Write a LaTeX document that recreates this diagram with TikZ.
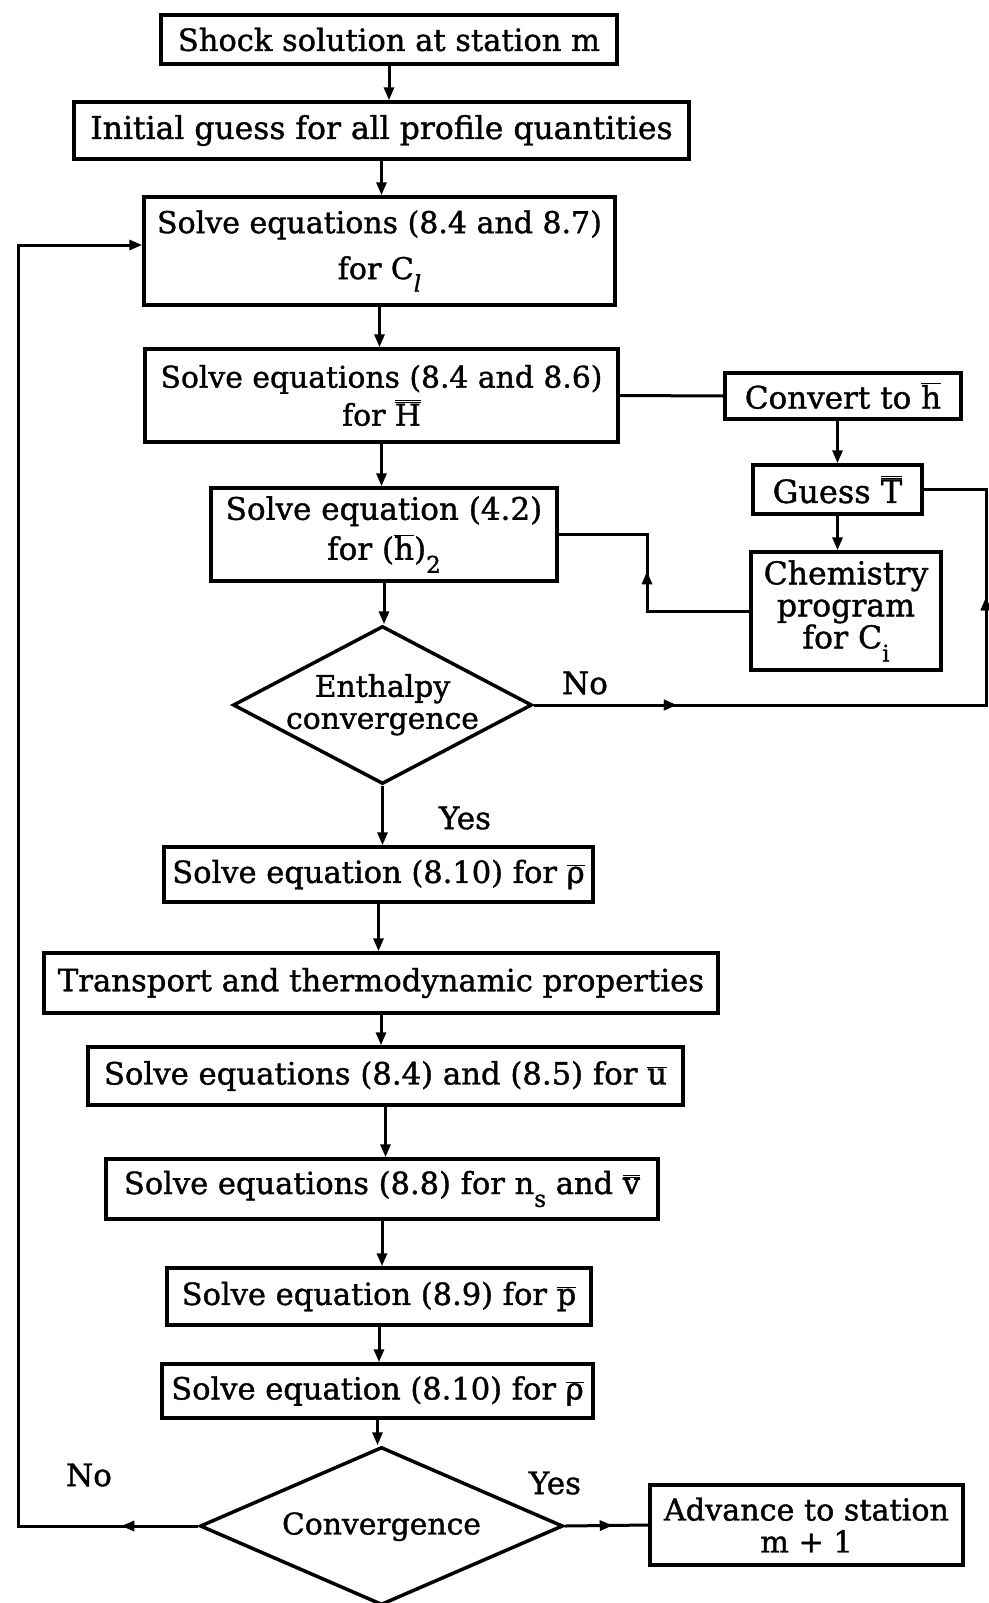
\documentclass[tikz,border=0pt]{standalone}
\usepackage{fontspec}
\setmainfont{DejaVu Serif}[FakeBold=1.2]
\usetikzlibrary{arrows.meta,shapes.geometric,decorations.markings}

% bars and lowered subscripts set in the running text font
\newcommand\ob[1]{\ensuremath{\overline{\mbox{#1}}}}
\newcommand\obb[1]{\ensuremath{\overline{\overline{\mbox{#1}}}}}
\newcommand\lsub[1]{\raisebox{-0.42em}{\fontsize{23}{23}\selectfont #1}}
\newcommand\fs[2]{\fontsize{#1}{#2}\selectfont}
% text that takes no room, so a decision keeps its given size
\newcommand\zt[1]{\makebox[0pt]{\smash{\raisebox{-0.25em}{\begin{tabular}[c]{@{}c@{}}#1\end{tabular}}}}}

\begin{document}
\begin{tikzpicture}[x=1pt,y=-1pt,
  box/.style={draw, line width=3.5pt, inner sep=0pt, align=center},
  txt/.style={font=\fs{30.5}{36}},
  dec/.style={draw, diamond, line width=3.5pt, inner sep=0pt},
  line/.style={line width=3pt},
  arr/.style={line width=3pt, -{Triangle[length=13pt,width=10pt]}},
  midarrow/.style={postaction={decorate}, decoration={markings,
      mark=at position #1 with {\arrow{Triangle[length=13pt,width=10pt]}}}},
  lbl/.style={font=\fs{31}{36}, inner sep=0pt}]

\fill[white] (0,0) rectangle (988,1603);
\useasboundingbox (0,0) rectangle (988,1603);

% main column
\node[box, txt, minimum width=456pt, minimum height=49pt] (b1) at (389,39.5)
  {Shock solution at station m};
\node[box, txt, font=\fs{31.4}{36}, minimum width=615pt, minimum height=57pt] (b2) at (381.5,130.5)
  {Initial guess for all profile quantities};
\node[box, minimum width=471pt, minimum height=108pt,
      font=\fs{30}{46}] (b3) at (379.5,251)
  {Solve equations (8.4 and 8.7)\\ for C\lsub{\itshape l}};
\node[box, minimum width=473pt, minimum height=93pt,
      font=\fs{29.8}{38}] (b4) at (381.5,395.5)
  {Solve equations (8.4 and 8.6)\\ for \obb{H}};
\node[box, minimum width=346pt, minimum height=93pt,
      font=\fs{31}{40}] (b5) at (384,534.5)
  {Solve equation (4.2)\\ for (\ob{h})\lsub{2}};
\node[dec, minimum width=299pt, minimum height=158pt,
      font=\fs{29.8}{32}] (enth) at (382.5,705)
  {\zt{Enthalpy\\ convergence}};
\node[box, txt, minimum width=429pt, minimum height=55pt] (b6) at (378.5,874.5)
  {Solve equation (8.10) for \ob{ρ}};
\node[box, txt, font=\fs{30.7}{36}, minimum width=674pt, minimum height=60pt] (b7) at (381,983)
  {Transport and thermodynamic properties};
\node[box, txt, font=\fs{30.7}{36}, minimum width=595pt, minimum height=58pt] (b8) at (385.5,1076)
  {Solve equations (8.4) and (8.5) for \ob{u}};
\node[box, txt, minimum width=552pt, minimum height=60pt] (b9) at (382,1189)
  {Solve equations (8.8) for n\lsub{s} and \obb{v}};
\node[box, txt, minimum width=424pt, minimum height=57pt] (b10) at (379,1296.5)
  {Solve equation (8.9) for \ob{p}};
\node[box, txt, minimum width=431pt, minimum height=54pt] (b11) at (377.5,1391)
  {Solve equation (8.10) for \ob{ρ}};
\node[dec, font=\fs{29.8}{36}, minimum width=363pt, minimum height=158pt] (cnv) at (381.5,1526)
  {\zt{Convergence}};

% side column
\node[box, font=\fs{31}{36}, minimum width=236pt, minimum height=46pt] (conv) at (843,396)
  {Convert to \ob{h}};
\node[box, font=\fs{32}{36}, minimum width=169pt, minimum height=49pt] (guess) at (837.5,489.5)
  {Guess \obb{T}};
\node[box, minimum width=190pt, minimum height=118pt,
      font=\fs{31.5}{32}] (chem) at (846,611)
  {Chemistry\\ program\\ for C\lsub{i}};
\node[box, minimum width=313pt, minimum height=80pt,
      font=\fs{30.2}{32}] (adv) at (806.5,1525)
  {Advance to station\\ m + 1};

% branch labels
\node[lbl] (noA) at (585,683) {No};
\node[lbl] (yesA) at (465,818) {Yes};
\node[lbl] (noB) at (89,1475) {No};
\node[lbl] (yesB) at (555,1483) {Yes};

% rails of the two loops
\coordinate (rgt) at (986,0);
\coordinate (lft) at (18,0);
\coordinate (fbx) at (647,0);

% downward flow
\draw[arr] (b1.south) -- (b1.south |- b2.north);
\draw[arr] (b2.south) -- (b2.south |- b3.north);
\draw[arr] (b3.south) -- (b3.south |- b4.north);
\draw[arr] (b4.south) -- (b4.south |- b5.north);
\draw[arr] (b5.south) -- (b5.south |- enth.north);
\draw[arr] (enth.south) -- (enth.south |- b6.north);
\draw[arr] (b6.south) -- (b6.south |- b7.north);
\draw[arr] (b7.south) -- (b7.south |- b8.north);
\draw[arr] (b8.south) -- (b8.south |- b9.north);
\draw[arr] (b9.south) -- (b9.south |- b10.north);
\draw[arr] (b10.south) -- (b10.south |- b11.north);
\draw[arr] (b11.south) -- (b11.south |- cnv.north);

% enthalpy iteration
\draw[line] (b4.east) -- (conv.west);
\draw[arr] (guess.north |- conv.south) -- (guess.north);
\draw[arr] (guess.south) -- (guess.south |- chem.north);
\draw[line, midarrow=142pt] (chem.west) -- (chem.west -| fbx) |- (b5.east);
\draw[line, midarrow=143pt, midarrow=560pt]
  (enth.east) -- (enth.east -| rgt) |- (guess.east);

% outer iteration and exit
\draw[arr, midarrow=77pt] (cnv.west) -- (cnv.west -| lft) |- ([yshift=6pt]b3.west);
\draw[line, midarrow=48pt] (cnv.east) -- (adv.west);

\end{tikzpicture}
\end{document}
